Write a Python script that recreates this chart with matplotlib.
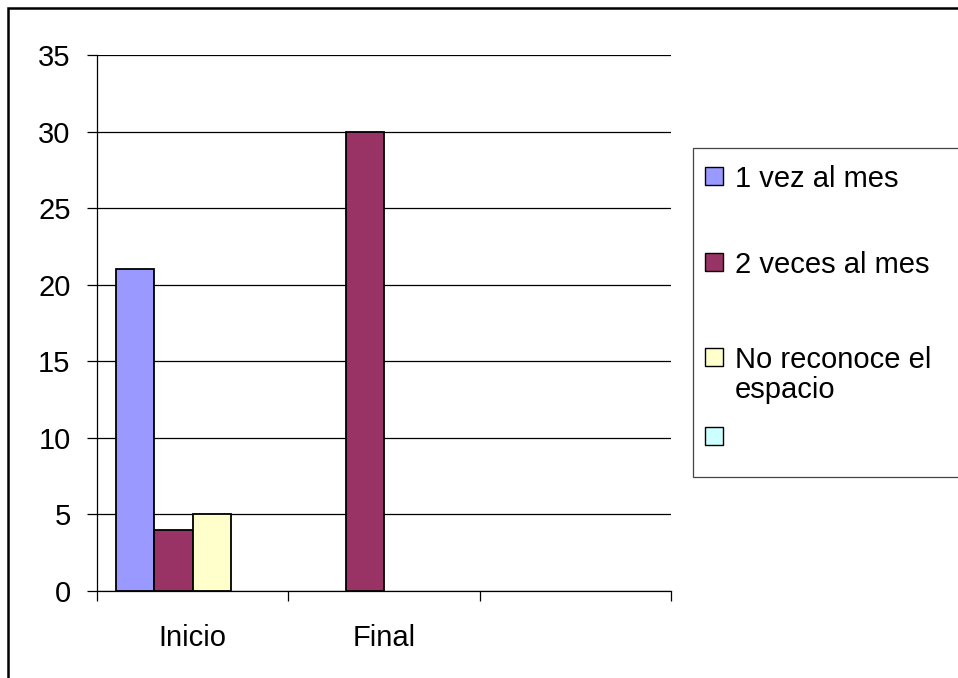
import numpy as np
import matplotlib.pyplot as plt
from matplotlib.patches import Rectangle

plt.rcParams['font.family'] = ['Liberation Sans', 'DejaVu Sans']

categories = ['Inicio', 'Final', '']
series_names = ['1 vez al mes', '2 veces al mes', 'No reconoce el\nespacio', '']
values = [
    [21, 0, 0],   # 1 vez al mes
    [4, 30, 0],   # 2 veces al mes
    [5, 0, 0],    # No reconoce el espacio
    [0, 0, 0],    # (sin nombre)
]
colors = ['#9999FF', '#993366', '#FFFFCC', '#CCFFFF']

W, H = 958, 678
fig = plt.figure(figsize=(W / 100, H / 100), dpi=100)
ax = fig.add_axes([97 / W, 1 - 591 / H, 574 / W, 536 / H])

x = np.arange(len(categories))
bw = 0.2
for j, vals in enumerate(values):
    vals = np.array(vals, dtype=float)
    keep = vals > 0   # Excel draws nothing for zero values
    ax.bar((x + (j - 1.5) * bw)[keep], vals[keep], width=bw, color=colors[j],
           edgecolor='black', linewidth=1.3, zorder=3)

ax.set_xlim(-0.5, len(categories) - 0.5)
ax.set_ylim(0, 35)
ax.set_yticks(range(0, 36, 5))
ax.yaxis.grid(True, color='black', linewidth=0.9)
ax.set_axisbelow(True)

ax.set_xticks(x)
ax.set_xticklabels(categories, fontsize=21)
ax.set_xticks(np.arange(-0.5, len(categories), 1), minor=True)
ax.tick_params(axis='x', which='major', length=0, pad=24)
ax.tick_params(axis='x', which='minor', length=7, width=0.9, direction='out')
ax.tick_params(axis='y', length=7, width=0.9, pad=12, labelsize=21)

for s in ['top', 'right']:
    ax.spines[s].set_visible(False)
for s in ['left', 'bottom']:
    ax.spines[s].set_color('black')
    ax.spines[s].set_linewidth(0.9)

# legend box drawn by hand, Excel style
fig.patches.append(Rectangle((693 / W, 1 - 477 / H), (W + 5 - 693) / W, 329 / H,
                             transform=fig.transFigure, facecolor='white',
                             edgecolor='#444444', linewidth=0.9, zorder=1))
rows_y = [176, 262, 357, 436]
for j, name in enumerate(series_names):
    yc = rows_y[j]
    fig.patches.append(Rectangle((705 / W, 1 - (yc + 9) / H), 18 / W, 18 / H,
                                 transform=fig.transFigure, facecolor=colors[j],
                                 edgecolor='black', linewidth=1.0, zorder=2))
    fig.text(735 / W, 1 - (yc - 11) / H, name, fontsize=21, va='top', ha='left',
             linespacing=1.1, zorder=3)

# outer chart border
fig.patches.append(Rectangle((8 / W, -5 / H), (W + 5) / W, (H - 3) / H,
                             transform=fig.transFigure, fill=False,
                             edgecolor='black', linewidth=1.8, zorder=0))

fig.savefig('out.png', dpi=100)
